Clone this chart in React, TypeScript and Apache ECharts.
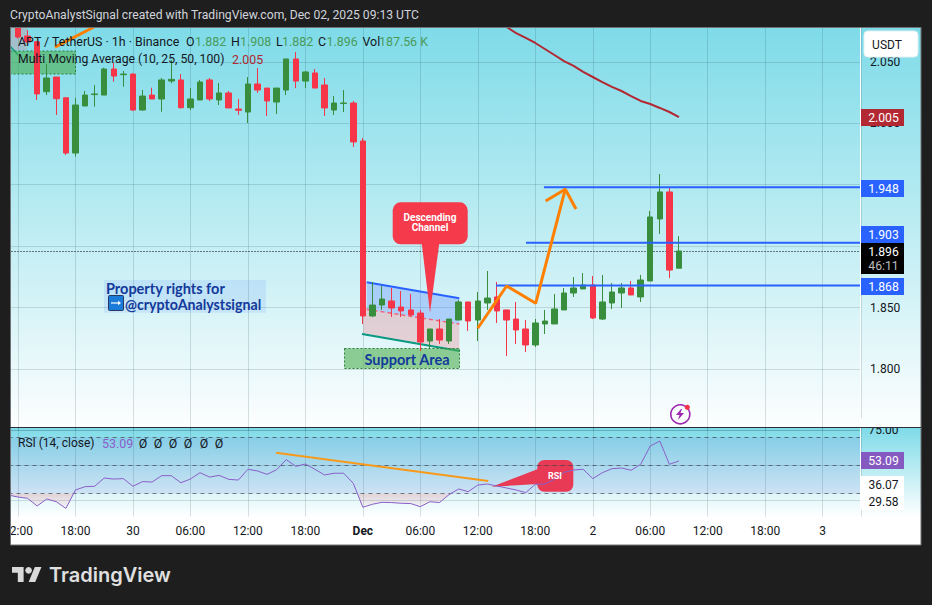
import React, { useEffect, useRef } from "react";
import * as echarts from "echarts";

const opens = [2.0850,2.0711,2.0664,2.0257,2.0377,2.0208,1.9758,2.0141,2.0234,2.0230,2.0442,2.0396,2.0401,2.0108,2.0230,2.0198,2.0344,2.0353,2.0127,2.0190,2.0353,2.0190,2.0247,2.0116,2.0092,2.0320,2.0287,2.0173,2.0271,2.0524,2.0344,2.0410,2.0312,2.0108,2.0162,2.0165,1.9856,1.8431,1.8520,1.8553,1.8504,1.8480,1.8455,1.8227,1.8325,1.8227,1.8398,1.8545,1.8398,1.8537,1.8586,1.8480,1.8406,1.8325,1.8195,1.8366,1.8366,1.8480,1.8618,1.8651,1.8683,1.8406,1.8537,1.8618,1.8659,1.8586,1.8716,1.9221,1.9441,1.8820];
const closes = [2.0703,2.0662,2.0239,2.0369,2.0200,1.9758,2.0149,2.0230,2.0239,2.0442,2.0385,2.0401,2.0108,2.0222,2.0198,2.0353,2.0358,2.0127,2.0198,2.0336,2.0198,2.0247,2.0125,2.0106,2.0320,2.0271,2.0182,2.0287,2.0524,2.0344,2.0418,2.0287,2.0125,2.0165,2.0165,1.9848,1.8431,1.8520,1.8569,1.8496,1.8472,1.8439,1.8219,1.8325,1.8235,1.8406,1.8545,1.8390,1.8553,1.8577,1.8472,1.8398,1.8317,1.8195,1.8374,1.8390,1.8488,1.8618,1.8659,1.8683,1.8415,1.8545,1.8626,1.8659,1.8602,1.8724,1.9237,1.9441,1.8805,1.8960];
const lows = [2.0690,2.0655,2.0190,2.0230,2.0068,1.9742,1.9728,2.0141,2.0135,2.0230,2.0339,2.0298,2.0103,2.0103,2.0198,2.0094,2.0326,2.0119,2.0108,2.0190,2.0182,2.0149,2.0125,2.0068,2.0002,2.0247,2.0059,2.0076,2.0230,2.0287,2.0287,2.0287,2.0059,2.0068,2.0092,1.9807,1.8366,1.8423,1.8480,1.8423,1.8423,1.8431,1.8146,1.8170,1.8203,1.8203,1.8398,1.8309,1.8227,1.8480,1.8374,1.8105,1.8203,1.8138,1.8178,1.8284,1.8366,1.8480,1.8586,1.8651,1.8406,1.8398,1.8488,1.8496,1.8602,1.8545,1.8716,1.9099,1.8740,1.8820];
const highs = [2.0900,2.0760,2.0664,2.0483,2.0377,2.0208,2.0208,2.0263,2.0312,2.0453,2.0493,2.0426,2.0407,2.0271,2.0290,2.0369,2.0515,2.0401,2.0287,2.0353,2.0369,2.0328,2.0263,2.0198,2.0377,2.0450,2.0287,2.0287,2.0524,2.0581,2.0426,2.0442,2.0369,2.0222,2.0271,2.0182,1.9880,1.8708,1.8675,1.8659,1.8634,1.8610,1.8480,1.8325,1.8406,1.8406,1.8561,1.8545,1.8626,1.8797,1.8708,1.8480,1.8545,1.8398,1.8406,1.8480,1.8610,1.8659,1.8748,1.8781,1.8757,1.8765,1.8700,1.8700,1.8716,1.8765,1.9286,1.9587,1.9481,1.9080];
const maStart = 50;
const maValues = [2.0833,2.0784,2.0735,2.0695,2.0654,2.0605,2.0556,2.0507,2.0467,2.0418,2.0377,2.0336,2.0296,2.0263,2.0222,2.0182,2.0157,2.0125,2.0092,2.0050];
const rsiValues = [29,27.6,26.7,21.3,26.2,24.3,19.6,32.6,34.9,35.2,41.0,40.3,40.6,35.2,38.5,38.2,42.7,42.7,37.7,40.3,44.8,41.7,42.9,40.1,39.6,47.2,46.0,43.6,46.9,54.0,49.3,50.9,47.2,43.2,44.4,44.4,37.3,20.4,22.5,23.9,23.7,23.2,23.0,20.8,24.3,23.7,29.3,33.3,31.4,36.1,36.8,35.4,34.0,32.6,30.7,36.6,36.8,40.1,45.0,46.7,47.2,40.6,44.8,47.6,48.1,46.5,50.7,63.6,67.1,50.7,53.09];
const oversoldA = [[-1,29],[0,27.6],[1,26.7],[2,21.3],[3,26.2],[4,24.3],[5,19.6],[5.8,30]];
const oversoldB = [[35.43,30],[36,20.4],[37,22.5],[38,23.9],[39,23.7],[40,23.2],[41,23.0],[42,20.8],[43,24.3],[44,23.7],[45,29.3],[45.18,30]];
const xLabels: Record<number,string> = {0:"12:00",6:"18:00",12:"30",18:"06:00",24:"12:00",30:"18:00",36:"Dec",42:"06:00",48:"12:00",54:"18:00",60:"2",66:"06:00",72:"12:00",78:"18:00",84:"3"};
const levelA = [[54.9,1.948],[88,1.948]];
const levelB = [[53.03,1.9028],[88,1.9028]];
const levelC = [[49.9,1.8679],[88,1.8679]];
const lastPrice = [[-6,1.8956],[88,1.8956]];
const arrowPath = [[47.99,1.8331],[51.01,1.8675],[54.04,1.8534],[57.13,1.9463]];
const arrowHead = [[55.08,1.9367],[57.13,1.9463],[58.25,1.9302]];
const topOrange = [[3.86,2.0621],[7.93,2.0784]];
const rsiTrend = [[26.93,58.9],[49.09,38.9]];
const rsiAxisLabels = [["75.00",430],["36.07",485],["29.58",501.5]] as [string,number][];

const F = "Roboto";
const FRAME = "#1e1e1e";
const DARK = "#131722";
const BLUE = "#2962ff";
const RED = "#f63549";
const GREEN = "#388e3c";
const ORANGE = "#ff8000";
const GRID = "rgba(30,70,85,0.17)";
const NAVY = "#12399b";

const d = "M14 22H7V11H0V4h14v18zM28 22h-8l7.5-18h8L28 22z";
echarts.graphic.registerShape("tvlogo", echarts.graphic.extendPath(d, {}));
const bolt = "M5 0L0 6h3.5L2 11l6-7H4.4L6 0z";
echarts.graphic.registerShape("bolt", echarts.graphic.extendPath(bolt, {}));

const rect = (x:number,y:number,w:number,h:number,fill:any,z=100,r=0,extra:any={}) => ({type:"rect",z,silent:true,shape:{x,y,width:w,height:h,r},style:{fill,...extra}});
const txt = (x:number,y:number,text:string,fill:string,size=12,z=110,align="left",weight:any="normal",family=F) => ({
  type:"text",z,silent:true,x,y,
  style:{text,fill,fontSize:size,fontWeight:weight,fontFamily:family,align,verticalAlign:"middle",textAlign:align,textVerticalAlign:"middle"}
});
const poly = (points:number[][],fill:string,z=1) => ({type:"polygon",z,silent:true,shape:{points},style:{fill}});
const seg = (x1:number,y1:number,x2:number,y2:number,stroke:string,lineWidth=1,z=1,extra:any={}) => ({type:"line",z,silent:true,shape:{x1,y1,x2,y2},style:{stroke,lineWidth,...extra}});
const vGrad = (a:string,b:string) => new echarts.graphic.LinearGradient(0,0,0,1,[{offset:0,color:a},{offset:1,color:b}]);

const lineS = (data:any[],color:string,width:number,z=3,extra:any={},xi=0,yi=0) => ({
  type:"line",data,xAxisIndex:xi,yAxisIndex:yi,showSymbol:false,symbol:"none",silent:true,z,
  lineStyle:{color,width,...(extra.lineStyle||{})},...(extra.rest||{})
});
const tag = (y:number,h:number,fill:string,label:string) => [rect(861,y,43,h,fill,120),txt(883.5,y+h/2+0.5,label,"#ffffff",12.2,130,"center")];

export default function App() {
  const ref = useRef<HTMLDivElement>(null);
  useEffect(() => {
    const chart = echarts.init(ref.current!, undefined, { renderer: "svg", width: 932, height: 605 });
    const candles = opens.map((o,i)=>[i,o,closes[i],lows[i],highs[i]]);
    const ma = maValues.map((v,i)=>[maStart+i,v]);
    const rsi = rsiValues.map((v,i)=>[i-1,v]);
    const dashedLine = {type:[4,4],color:"rgba(60,60,70,0.65)",width:1};
    const solidLine = {type:"solid",color:GRID,width:1};
    const option:any = {
      animation:false,
      backgroundColor:FRAME,
      grid:[
        {left:-39.5,width:900.5,top:0.5,height:429.8,outerBoundsMode:"none"},
        {left:-39.5,width:900.5,top:427.5,height:89.2,outerBoundsMode:"none"},
      ],
      xAxis:[
        {type:"value",gridIndex:0,min:-6,max:88,interval:6,axisLine:{show:false},axisTick:{show:false},axisLabel:{show:false},splitLine:{show:true,lineStyle:{color:GRID,width:1}}},
        {type:"value",gridIndex:1,min:-6,max:88,interval:6,axisLine:{show:false},axisTick:{show:false},
          axisLabel:{show:true,margin:8,fontFamily:F,fontSize:12,color:DARK,showMinLabel:false,showMaxLabel:true,hideOverlap:false,
            formatter:(v:number)=>{const s=xLabels[v]||"";return s==="Dec"?"{b|Dec}":s;},
            rich:{b:{fontFamily:F,fontSize:12,fontWeight:"bold",color:DARK}}},
          splitLine:{show:true,lineStyle:{color:GRID,width:1}}},
      ],
      yAxis:[
        {type:"value",gridIndex:0,position:"right",min:1.75,max:2.1,interval:0.05,axisLine:{show:false},axisTick:{show:false},
          axisLabel:{margin:9,fontFamily:F,fontSize:12,color:DARK,align:"left",
            formatter:(v:number)=>{const s=v.toFixed(3);return (v<1.76||v>2.09||s==="1.950"||s==="1.900")?"":s;}},
          splitLine:{show:true,lineStyle:{color:GRID,width:1}}},
        {type:"value",gridIndex:1,position:"right",min:13.73,max:76.68,axisLine:{show:false},axisTick:{show:false},axisLabel:{show:false},splitLine:{show:false}},
      ],
      series:[
        {type:"candlestick",data:candles,xAxisIndex:0,yAxisIndex:0,barWidth:6,silent:true,z:2,
          itemStyle:{color:GREEN,color0:RED,borderColor:GREEN,borderColor0:RED,borderWidth:1}},
        lineS(lastPrice,"#000000",1,2,{lineStyle:{type:[1,2]}}),
        lineS(levelA,BLUE,2),
        lineS(levelB,BLUE,2),
        lineS(levelC,BLUE,2),
        lineS(ma,"#b22833",2),
        lineS(arrowPath,ORANGE,3,4),
        lineS(arrowHead,ORANGE,3,4),
        lineS(topOrange,ORANGE,3,4),
        {type:"line",data:rsi,xAxisIndex:1,yAxisIndex:1,showSymbol:false,symbol:"none",silent:true,z:3,
          lineStyle:{color:"#8a5fc9",width:1},
          markLine:{silent:true,symbol:"none",label:{show:false},z:1,
            data:[
              {yAxis:75,lineStyle:solidLine},{yAxis:50,lineStyle:solidLine},{yAxis:25,lineStyle:solidLine},
              {yAxis:70,lineStyle:dashedLine},{yAxis:50,lineStyle:dashedLine},{yAxis:30,lineStyle:dashedLine},
            ]},
          markArea:{silent:true,z:0,itemStyle:{color:"rgba(100,100,205,0.13)"},data:[[{yAxis:70},{yAxis:30}]]},
        },
        ...[oversoldA,oversoldB].map(s=>({type:"line",data:s,xAxisIndex:1,yAxisIndex:1,showSymbol:false,symbol:"none",silent:true,z:2,
          lineStyle:{width:0},
          areaStyle:{origin:30,color:vGrad("rgba(242,54,69,0.26)","rgba(242,54,69,0.04)")}})),
        lineS(rsiTrend,"#f79a1c",2,4,{},1,1),
      ],
      graphic:{elements:[
        rect(10,27,911,518,"#ffffff",-10),
        rect(10,27,911,401,vGrad("#7edbe8","#fdfefe"),-9),
        rect(10,428,911,89,vGrad("#7edbe8","#ffffff"),-9),
        poly([[10,27],[27,27],[27,50],[10,50]],"rgba(242,120,130,0.28)",1),
        seg(10,46,18,55,"#089981",1.5,1),
        rect(10.5,51,65,23,"rgba(76,175,80,0.6)",1,0,{stroke:"#2f7d3a",lineDash:[2,2],lineWidth:1}),
        poly([[366.7,282.3],[459.3,298.3],[459.3,324],[366.7,309.3]],"rgba(41,98,255,0.25)",1),
        poly([[363.3,308.5],[459.3,324],[459.3,351],[363.3,334]],"rgba(242,54,69,0.2)",1),
        seg(366.7,282.3,459.3,298.3,BLUE,2,1),
        seg(366.7,309.3,459.3,324,"#f0657a",1.5,1,{lineDash:[4,3]}),
        seg(362,334,459.7,351,"#089981",2,1),
        rect(344.5,348.5,115,20,"rgba(76,175,80,0.6)",1,0,{stroke:"#2f7d3a",lineDash:[2,2],lineWidth:1}),
        txt(407,359.5,"Support Area",NAVY,14.5,6,"center","bold","Lato"),
        poly([[421.7,243],[439.3,243],[430,312.7]],"#f43a4b",5),
        rect(392.7,202.3,75,42,"#f43a4b",5,8),
        txt(430,217.5,"Descending","#ffffff",10,6,"center","bold"),
        txt(430,227.5,"Channel","#ffffff",10,6,"center","bold"),
        poly([[538,469],[491.7,486.7],[538,484]],"#e83a55",1),
        rect(537.3,460,36,31.7,"#e83a55",1,7),
        txt(555,475.5,"RSI","#ffffff",9,6,"center","bold"),
        rect(104,280,162,32.7,"rgba(41,98,255,0.1)",1),
        txt(106,288.5,"Property rights for",NAVY,14.5,6,"left","bold","Lato"),
        rect(108.5,295.5,15,15,"#1a7bd8",6,1,{stroke:"#263a66",lineWidth:1}),
        seg(111,303,119,303,"#ffffff",1.2,7),
        poly([[118,300.8],[121,303],[118,305.2]],"#ffffff",7),
        txt(125,304.5,"@cryptoAnalystsignal",NAVY,14.2,6,"left","bold","Lato"),
        {type:"circle",z:6,silent:true,shape:{cx:680.3,cy:414.3,r:9.5},style:{fill:"rgba(255,255,255,0.3)",stroke:"#9c27b0",lineWidth:1.6}},
        {type:"bolt",z:7,silent:true,x:676,y:409,scaleX:1,scaleY:1,style:{fill:"#9c27b0"}},
        {type:"circle",z:8,silent:true,shape:{cx:687.3,cy:407.3,r:2.6},style:{fill:"#f63549"}},
        txt(18,41.5,"APT / TetherUS · 1h · Binance",DARK,12.4,50),
        txt(186,41.5,"O",DARK,12.4,50),txt(195,41.5,"1.882","#4a9a5c",12.4,50),
        txt(231,41.5,"H",DARK,12.4,50),txt(240,41.5,"1.908","#4a9a5c",12.4,50),
        txt(276,41.5,"L",DARK,12.4,50),txt(282,41.5,"1.882","#4a9a5c",12.4,50),
        txt(318,41.5,"C",DARK,12.4,50),txt(326.5,41.5,"1.896","#4a9a5c",12.4,50),
        txt(362.5,41.5,"Vol",DARK,12.4,50),txt(379,41.5,"187.56 K","#4a9a5c",12.4,50),
        txt(18,59,"Multi Moving Average (10, 25, 50, 100)",DARK,12.2,50),
        txt(232,59,"2.005","#b22833",12.4,50),
        txt(18,443,"RSI (14, close)",DARK,12,50),
        txt(102,443,"53.09","#8a5fc9",12.4,50),
        ...[143,158,173,188,204,219].map(x=>txt(x,443,"Ø",DARK,12.4,50,"center")),
        seg(860.5,27,860.5,517,"#ffffff",1,60),
        rect(0,0,932,27,FRAME,100),
        rect(0,545,932,60,FRAME,100),
        rect(0,0,10,605,FRAME,100),
        rect(921,0,11,605,FRAME,100),
        rect(10.5,27.5,910.5,517.5,"transparent",101,0,{stroke:"#6f7276",lineWidth:1}),
        seg(10,427.5,921,427.5,"#2a2e39",1,101),
        rect(861,476,43,17,"#ffffff",80),
        rect(861,493,43,17,"#ffffff",80),
        ...rsiAxisLabels.map(([s,y])=>txt(883.5,y,s,DARK,12,85,"center")),
        rect(861,418,60,9,vGrad("#f7fdfe","#fdfefe"),90),
        rect(864,31,54,26,"#ffffff",120,4,{stroke:"#e3f1f4",lineWidth:1}),
        txt(887,45,"USDT",DARK,12,130,"center"),
        ...tag(109,17,"#b22833","2.005"),
        ...tag(180,17,BLUE,"1.948"),
        ...tag(226,17,BLUE,"1.903"),
        rect(861,243,43,31,"#000000",120),
        txt(883.5,252,"1.896","#ffffff",12.2,130,"center"),
        txt(883.5,265.5,"46:11","#bdbdbd",12.2,130,"center"),
        ...tag(278,17,BLUE,"1.868"),
        ...tag(452,17,"#8459c0","53.09"),
        txt(10,15,"CryptoAnalystSignal created with TradingView.com, Dec 02, 2025 09:13 UTC","#d1d4dc",12.15,110),
        {type:"tvlogo",z:110,silent:true,x:12,y:563.7,scaleX:0.83,scaleY:0.83,style:{fill:"#d9d9d9"}},
        {type:"circle",z:110,silent:true,shape:{cx:28.6,cy:570.3,r:3.3},style:{fill:"#d9d9d9"}},
        txt(49,575,"TradingView","#e0e0e0",20,110,"left",600,"Inter"),
      ]},
    };
    chart.setOption(option);
    return () => chart.dispose();
  }, []);
  return <div ref={ref} style={{position:"absolute",left:0,top:0,width:932,height:605,background:FRAME}} />;
}
